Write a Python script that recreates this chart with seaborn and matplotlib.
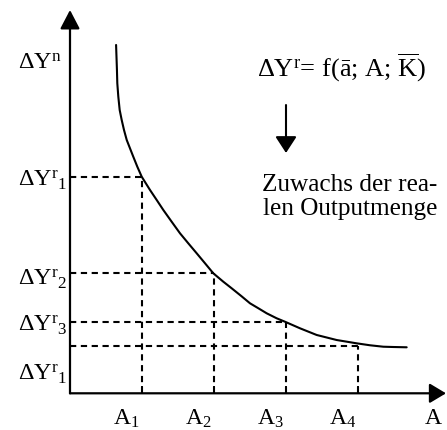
import matplotlib
matplotlib.use("Agg")
import matplotlib.pyplot as plt
import matplotlib.transforms as mtransforms
import numpy as np
import pandas as pd
import seaborn as sns

# Labour input A (horizontal) and real output increment ΔY^r (vertical)
curve_a = [0.640, 0.652, 0.657, 0.671, 0.690, 0.718, 0.750, 0.788, 0.833, 0.879,
           0.935, 0.996, 1.111, 1.204, 1.296, 1.412, 1.528, 1.643, 1.760, 1.875,
           1.990, 2.129, 2.246, 2.380, 2.500, 2.616, 2.732, 2.870, 2.986, 3.194,
           3.426, 3.704, 3.982, 4.167, 4.351, 4.490, 4.676]
curve_y = [4.838, 4.490, 4.306, 4.120, 3.935, 3.796, 3.657, 3.518, 3.403, 3.286,
           3.147, 3.008, 2.824, 2.685, 2.546, 2.383, 2.222, 2.083, 1.944, 1.806,
           1.667, 1.550, 1.458, 1.350, 1.250, 1.181, 1.111, 1.042, 0.994, 0.903,
           0.810, 0.740, 0.694, 0.667, 0.647, 0.643, 0.639]

# Marked input levels and the corresponding output increments
a_levels = [1.0, 2.0, 3.0, 4.0]
y_levels = [3.008, 1.667, 0.994, 0.661]
a_labels = ["A$_1$", "A$_2$", "A$_3$", "A$_4$"]

# Labels on the vertical axis
y_label_texts = [r"$\Delta Y^{n}$", r"$\Delta Y^{r}{}_{1}$", r"$\Delta Y^{r}{}_{2}$",
                 r"$\Delta Y^{r}{}_{3}$", r"$\Delta Y^{r}{}_{1}$"]
y_label_pos = [4.514, 2.869, 1.504, 0.856, 0.185]

sns.set_theme(style="white")
plt.rcParams["font.family"] = ["Liberation Serif", "DejaVu Serif"]
plt.rcParams["mathtext.fontset"] = "custom"
plt.rcParams["mathtext.rm"] = "Liberation Serif"
plt.rcParams["mathtext.it"] = "Liberation Serif:italic"
plt.rcParams["mathtext.bf"] = "Liberation Serif:bold"
plt.rcParams["mathtext.default"] = "regular"

W, H, DPI = 447, 430, 100
fig = plt.figure(figsize=(W / DPI, H / DPI), dpi=DPI)
fig.patch.set_facecolor("white")
x0, y0 = 70, 393.3
ax = fig.add_axes([x0 / W, (H - y0) / H, (W - x0 - 1) / W, (y0 - 10) / H])
ax.set_facecolor("white")
xmax, ymax = (W - x0 - 1) / 72, (y0 - 10) / 72
ax.set_xlim(0, xmax)
ax.set_ylim(0, ymax)

df = pd.DataFrame({"A": curve_a, "dY": curve_y})
sns.lineplot(data=df, x="A", y="dY", sort=False, color="black", lw=1.5, ax=ax)

dash = (0, (3.0, 2.2))
for a, yv in zip(a_levels, y_levels):
    ax.plot([0, a], [yv, yv], color="black", lw=1.5, ls=dash)
    ax.plot([a, a], [0, yv], color="black", lw=1.5, ls=dash)

# Axes drawn as arrows
for sp in ax.spines.values():
    sp.set_visible(False)
ax.annotate("", xy=(1.0, 0), xytext=(0, 0), xycoords="axes fraction",
            arrowprops=dict(arrowstyle="-|>,head_length=1.0,head_width=0.6",
                            mutation_scale=10, color="black", lw=1.6,
                            shrinkA=0, shrinkB=0), annotation_clip=False)
ax.annotate("", xy=(0, 1.0), xytext=(0, 0), xycoords="axes fraction",
            arrowprops=dict(arrowstyle="-|>,head_length=1.15,head_width=0.6",
                            mutation_scale=10, color="black", lw=1.6,
                            shrinkA=0, shrinkB=0), annotation_clip=False)

# Ticks on the horizontal axis
ax.set_xticks(a_levels)
ax.set_xticklabels([])
ax.set_yticks([])
ax.tick_params(axis="x", direction="in", length=5, width=1.4, color="black", bottom=True)
ax.set_xlabel("")
ax.set_ylabel("")

lab_off = mtransforms.offset_copy(ax.transData, fig=fig, x=-2, y=0, units="dots")
for a, lab in zip(a_levels, a_labels):
    ax.text(a, -0.43, lab, transform=lab_off, ha="right", va="baseline",
            fontsize=17, color="black")
ax.text(4.93, -0.43, "A", ha="left", va="baseline", fontsize=17, color="black")

for i, (txt, yp) in enumerate(zip(y_label_texts, y_label_pos)):
    off = mtransforms.offset_copy(ax.transData, fig=fig, x=(-8 if i == 0 else -3),
                                  y=0, units="dots")
    ax.text(0, yp, txt, transform=off, ha="right", va="baseline",
            fontsize=17.5, color="black")

ax.text(2.593, 4.397, r"$\Delta Y^{r}$= f(ā; A; $\overline{K}$)", ha="left",
        va="baseline", fontsize=19, color="black")
ax.annotate("", xy=(3.0, 3.338), xytext=(3.0, 4.004), xycoords="data",
            arrowprops=dict(arrowstyle="-|>,head_length=1.0,head_width=0.65",
                            mutation_scale=10, color="black", lw=1.5,
                            shrinkA=0, shrinkB=0))
ax.text(2.66, 2.814, "Zuwachs der rea-", ha="left", va="baseline",
        fontsize=18.2, color="black")
ax.text(2.676, 2.476, "len Outputmenge", ha="left", va="baseline",
        fontsize=18.2, color="black")

fig.savefig("out.png", dpi=DPI, facecolor="white")
